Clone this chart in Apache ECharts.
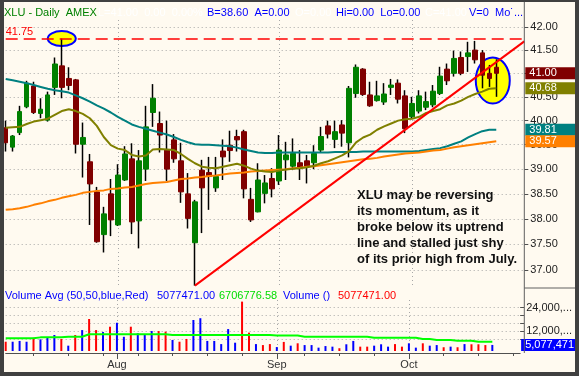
<!DOCTYPE html>
<html>
<head>
<meta charset="utf-8">
<script src="https://cdn.jsdelivr.net/npm/echarts@6/dist/echarts.min.js"></script>
<style>
  html, body { margin: 0; padding: 0; width: 579px; height: 376px; overflow: hidden; background: #404040; }
  #chart { position: absolute; left: 4px; top: 2px; width: 571px; height: 370px; }
</style>
</head>
<body>
<div id="chart"></div>
<script>
// XLU daily, 2007-07-10 .. 2007-10-17 (last 4 dates are empty space on the right)
const dates = [
  '2007-07-10','2007-07-11','2007-07-12','2007-07-13','2007-07-16','2007-07-17','2007-07-18','2007-07-19','2007-07-20',
  '2007-07-23','2007-07-24','2007-07-25','2007-07-26','2007-07-27','2007-07-30','2007-07-31',
  '2007-08-01','2007-08-02','2007-08-03','2007-08-06','2007-08-07','2007-08-08','2007-08-09','2007-08-10',
  '2007-08-13','2007-08-14','2007-08-15','2007-08-16','2007-08-17','2007-08-20','2007-08-21','2007-08-22',
  '2007-08-23','2007-08-24','2007-08-27','2007-08-28','2007-08-29','2007-08-30','2007-08-31',
  '2007-09-04','2007-09-05','2007-09-06','2007-09-07','2007-09-10','2007-09-11','2007-09-12','2007-09-13',
  '2007-09-14','2007-09-17','2007-09-18','2007-09-19','2007-09-20','2007-09-21','2007-09-24','2007-09-25',
  '2007-09-26','2007-09-27','2007-09-28',
  '2007-10-01','2007-10-02','2007-10-03','2007-10-04','2007-10-05','2007-10-08','2007-10-09','2007-10-10',
  '2007-10-11','2007-10-12','2007-10-15','2007-10-16','2007-10-17','2007-10-18','2007-10-19','2007-10-22','2007-10-23'
];

const opens = [39.85,39.45,39.75,40.29,40.73,40.15,40.01,40.70,41.16,40.89, 40.86,39.51,39.15,38.54,37.69,38.50,37.88,38.78,39.21,37.96,
  39.00,40.17,39.94,39.39,39.60,39.17,38.50,37.53,38.98,38.93, 38.62,39.37,39.49,39.67,39.77,38.39,38.14,38.51,38.81,38.76,
  39.19,39.06,39.13,39.17,39.13,39.39,39.89,39.61,39.91,39.54, 40.57,41.09,40.54,40.42,40.39,40.70,40.79,40.52,40.08,40.20,
  40.28,40.33,40.57,41.09,41.00,41.34,41.36,41.50,41.44,41.00, 41.13];
const closes = [39.54,39.68,40.19,40.79,40.17,40.24,40.54,41.20,40.70,40.74, 39.51,39.65,38.70,37.55,38.10,37.98,38.88,39.31,37.94,39.17,
  39.87,40.47,39.70,39.00,39.21,38.54,38.01,38.34,38.62,38.85, 38.85,39.25,39.38,39.60,38.60,37.98,38.78,38.72,38.60,39.39,
  39.29,39.32,39.04,39.06,39.32,39.67,39.72,39.77,39.74,40.68, 41.13,40.55,40.31,40.52,40.56,40.75,40.45,39.83,40.36,40.52,
  40.40,40.62,40.94,40.84,41.32,41.00,41.44,41.29,40.96,40.89, 41.00];
const highs = [40.00,39.70,40.31,40.84,40.82,40.47,40.61,41.34,41.75,41.13, 40.88,39.96,39.31,38.64,38.24,38.80,39.10,39.47,39.53,39.39,
  40.31,40.77,40.19,40.00,39.72,39.54,38.92,38.38,39.19,39.25, 39.25,39.61,39.79,39.81,39.81,38.62,39.12,38.88,39.02,39.70,
  39.56,39.63,39.39,39.29,39.49,39.87,40.00,40.00,40.01,40.73, 41.19,41.11,40.82,40.84,40.79,40.88,40.87,40.64,40.50,40.64,
  40.61,40.75,41.14,41.21,41.49,41.47,41.68,41.70,41.50,41.18, 41.30];
const lows = [39.36,39.36,39.70,40.26,40.14,40.05,39.98,40.54,40.47,40.64, 39.32,38.83,37.88,37.53,37.34,37.66,37.86,38.76,37.70,37.42,
  38.76,39.87,39.34,38.76,39.13,38.32,37.81,36.70,37.72,38.18, 38.54,38.78,39.15,39.36,38.41,37.94,38.13,38.31,38.43,38.68,
  38.78,38.98,38.78,38.71,39.00,39.35,39.63,39.43,39.46,39.24, 40.48,40.52,40.29,40.40,40.33,40.54,40.36,39.74,40.05,40.15,
  40.22,40.28,40.54,40.75,40.93,40.96,41.03,41.21,40.68,40.71, 40.50];

const ma20 = [39.85,39.86,39.87,39.93,39.98,40.01,40.04,40.12,40.20,40.24, 40.20,40.14,40.05,39.89,39.66,39.49,39.42,39.39,39.29,39.26,
  39.28,39.40,39.41,39.40,39.39,39.31,39.21,39.12,39.05,39.03, 39.02,39.05,39.08,39.11,39.07,39.01,38.97,38.95,38.94,38.97,
  38.99,39.01,39.02,39.04,39.07,39.12,39.16,39.22,39.28,39.37, 39.55,39.65,39.71,39.81,39.88,39.94,40.00,40.03,40.04,40.08,
  40.16,40.20,40.24,40.32,40.36,40.42,40.50,40.56,40.61,40.67, 40.68];
const ma50 = [40.88,40.85,40.82,40.79,40.75,40.71,40.67,40.64,40.62,40.59, 40.53,40.47,40.40,40.32,40.25,40.17,40.08,40.00,39.92,39.87,
  39.83,39.79,39.75,39.71,39.66,39.60,39.55,39.51,39.50,39.50, 39.49,39.48,39.47,39.44,39.40,39.37,39.34,39.33,39.33,39.34,
  39.34,39.34,39.34,39.34,39.34,39.34,39.34,39.35,39.35,39.35, 39.35,39.36,39.36,39.36,39.36,39.36,39.36,39.36,39.36,39.37,
  39.39,39.41,39.43,39.47,39.52,39.57,39.65,39.72,39.78,39.81, 39.81];
const ma200 = [38.18,38.19,38.21,38.24,38.28,38.31,38.35,38.38,38.42,38.45, 38.48,38.52,38.54,38.56,38.57,38.60,38.61,38.63,38.64,38.67,
  38.70,38.72,38.73,38.74,38.77,38.80,38.81,38.83,38.84,38.86, 38.87,38.89,38.91,38.92,38.93,38.95,38.96,38.97,38.98,38.99,
  39.00,39.02,39.03,39.05,39.06,39.08,39.10,39.12,39.14,39.16, 39.18,39.20,39.21,39.23,39.26,39.28,39.30,39.32,39.33,39.34,
  39.36,39.38,39.39,39.42,39.45,39.47,39.49,39.51,39.53,39.55, 39.57];

const volumes = [6.7e6,6.7e6,7.1e6,6.7e6,8.7e6,7.9e6,8.7e6,10.1e6,8.1e6,4.7e6, 10.1e6,12.6e6,18.2e6,12.6e6,11.6e6,14.3e6,16.3e6,9.2e6,14.3e6,11.0e6,
  10.1e6,12.1e6,12.1e6,11.8e6,7.6e6,6.7e6,8.1e6,17.7e6,18.6e6,7.1e6, 7.1e6,5.5e6,13.1e6,6.2e6,27.0e6,11.3e6,5.5e6,5.0e6,5.5e6,4.0e6,
  6.6e6,4.7e6,5.9e6,5.0e6,5.0e6,3.7e6,4.5e6,4.2e6,3.4e6,5.4e6, 7.1e6,4.2e6,4.2e6,4.7e6,5.4e6,4.2e6,5.5e6,4.2e6,5.9e6,3.7e6,
  5.9e6,4.7e6,5.0e6,3.9e6,4.2e6,3.9e6,5.5e6,5.4e6,5.4e6,5.0e6, 5077471];
const volAvg = [8.4e6,8.4e6,8.4e6,8.4e6,8.4e6,8.9e6,8.9e6,8.9e6,8.9e6,9.2e6, 9.2e6,9.2e6,10.5e6,10.5e6,10.5e6,10.5e6,10.5e6,10.5e6,10.5e6,10.5e6,
  10.5e6,10.5e6,10.5e6,10.5e6,10.1e6,10.1e6,10.1e6,10.1e6,10.1e6,10.1e6, 10.1e6,10.1e6,10.1e6,10.1e6,10.1e6,10.1e6,10.1e6,10.1e6,10.1e6,9.8e6,
  9.8e6,9.8e6,9.8e6,9.2e6,9.2e6,9.2e6,9.2e6,9.2e6,9.2e6,9.2e6, 9.2e6,9.2e6,9.2e6,8.7e6,8.7e6,8.7e6,8.7e6,8.7e6,8.7e6,8.7e6,
  8.1e6,8.1e6,7.6e6,7.6e6,7.6e6,7.2e6,7.2e6,7.2e6,6.7e6,6.7e6, 6706776.58];

const priceTicks = [37, 37.5, 38, 38.5, 39, 39.5, 40, 40.5, 41, 41.5, 42];
const volTicks = [8e6, 12e6, 16e6, 20e6, 24e6];
const volLabels = [12e6, 24e6];
const priorHigh = 41.75;
const trendLine = [['2007-08-16', 36.70], ['2007-10-23', 41.69]];
const note = ['XLU may be reversing', 'its momentum, as it', 'broke below its uptrend',
  'line and stalled just shy', 'of its prior high from July.'];

const FONT = '"Liberation Sans", Arial, sans-serif';
const MONTHS = ['Jan','Feb','Mar','Apr','May','Jun','Jul','Aug','Sep','Oct','Nov','Dec'];
const isMonthStart = i => i > 0 && dates[i].slice(5, 7) !== dates[i - 1].slice(5, 7);
const dow = d => new Date(d + 'T00:00:00Z').getUTCDay();
const isWeekStart = i => i > 0 && dow(dates[i]) < dow(dates[i - 1]);

const dotted = { color: '#a8a8a8', type: [1, 3], width: 1 };

// coloured value box sitting on the right axis
function tag(value, text, bg) {
  return {
    silent: true, symbol: 'none', animation: false,
    lineStyle: { color: 'rgba(0,0,0,0)', width: 1 },
    label: {
      show: true, position: 'end', distance: 1, formatter: text,
      color: '#fff', backgroundColor: bg, padding: [0, 4], lineHeight: 12,
      width: 50, fontSize: 11, fontFamily: FONT
    },
    data: [{ yAxis: value }]
  };
}

const candleWicks = closes.map((c, i) => [opens[i], c, lows[i], highs[i]]);
const candleBodies = closes.map((c, i) => [opens[i], c, Math.min(opens[i], c), Math.max(opens[i], c)]);
const volBars = volumes.map((v, i) => ({
  value: v,
  itemStyle: { color: closes[i] >= (i ? closes[i - 1] : opens[0]) ? '#0000ff' : '#ff0000' }
}));
const last = closes.length - 1;

const catAxis = { type: 'category', data: dates, boundaryGap: false, position: 'bottom' };

const chart = echarts.init(document.getElementById('chart'));
chart.setOption({
  animation: false,
  backgroundColor: '#fffaf0',
  textStyle: { fontFamily: FONT },
  grid: [
    { left: 1.7, top: 18, width: 518.6, height: 268 },
    { left: 1.7, top: 298, width: 518.6, height: 51 }
  ],
  xAxis: [
    Object.assign({}, catAxis, {
      gridIndex: 0,
      axisLine: { show: false }, axisTick: { show: false }, axisLabel: { show: false },
      splitLine: { show: true, interval: isMonthStart, lineStyle: dotted }
    }),
    Object.assign({}, catAxis, {
      gridIndex: 1, offset: 2,
      axisLine: { show: true, lineStyle: { color: '#505050' } },
      axisTick: { show: true, interval: isWeekStart, length: 3, lineStyle: { color: '#505050' } },
      axisLabel: { show: false },
      splitLine: { show: true, interval: isMonthStart, lineStyle: dotted }
    }),
    Object.assign({}, catAxis, {
      gridIndex: 1, offset: 2,
      axisLine: { show: false },
      axisTick: { show: true, interval: isMonthStart, length: 6, lineStyle: { color: '#505050' } },
      axisLabel: {
        show: true, interval: isMonthStart, margin: 6, color: '#333', fontSize: 11, fontFamily: FONT,
        formatter: v => MONTHS[+v.slice(5, 7) - 1]
      },
      splitLine: { show: false }
    })
  ],
  yAxis: [
    {
      gridIndex: 0, type: 'log', logBase: 10, min: 36.654, max: 42.157, position: 'right',
      axisLine: { show: false },
      axisTick: { show: true, length: 4, customValues: priceTicks, lineStyle: { color: '#505050' } },
      axisLabel: { customValues: priceTicks, formatter: v => v.toFixed(2), margin: 6, color: '#222', fontSize: 11, fontFamily: FONT },
      splitLine: { show: true, lineStyle: dotted }
    },
    {
      gridIndex: 1, type: 'value', min: 2e6, max: 27.82e6, position: 'right',
      axisLine: { show: false },
      axisTick: { show: true, length: 4, customValues: volTicks, lineStyle: { color: '#505050' } },
      axisLabel: {
        customValues: volLabels, margin: 6, color: '#222', fontSize: 11, fontFamily: FONT,
        formatter: v => (v / 1000).toLocaleString('en-US') + ',...'
      },
      splitLine: { show: true, lineStyle: dotted }
    }
  ],
  series: [
    {
      name: 'wick', type: 'candlestick', xAxisIndex: 0, yAxisIndex: 0, clip: false, z: 2,
      barWidth: 1, data: candleWicks,
      itemStyle: { color: '#000', color0: '#000', borderColor: '#000', borderColor0: '#000', borderWidth: 1.5 }
    },
    {
      name: 'body', type: 'candlestick', xAxisIndex: 0, yAxisIndex: 0, clip: false, z: 2,
      barWidth: 5, data: candleBodies,
      itemStyle: { color: '#008000', color0: '#800000', borderColor: '#008000', borderColor0: '#800000', borderWidth: 1 },
      markLine: tag(closes[last], closes[last].toFixed(2), '#800000')
    },
    {
      name: 'ma50', type: 'line', xAxisIndex: 0, yAxisIndex: 0, data: ma50, z: 3,
      showSymbol: false, lineStyle: { color: '#008080', width: 2 },
      markLine: tag(ma50[last], ma50[last].toFixed(2), '#008080')
    },
    {
      name: 'ma200', type: 'line', xAxisIndex: 0, yAxisIndex: 0, data: ma200, z: 3,
      showSymbol: false, lineStyle: { color: '#ff8000', width: 2 },
      markLine: tag(ma200[last], ma200[last].toFixed(2), '#ff8000')
    },
    {
      name: 'ma20', type: 'line', xAxisIndex: 0, yAxisIndex: 0, data: ma20, z: 3,
      showSymbol: false, lineStyle: { color: '#808000', width: 2 },
      markLine: tag(ma20[last], ma20[last].toFixed(2), '#808000')
    },
    {
      name: 'marks', type: 'line', xAxisIndex: 0, yAxisIndex: 0, data: [], z: 4,
      markLine: {
        silent: true, symbol: 'none', animation: false,
        data: [
          [
            { coord: trendLine[0], lineStyle: { color: '#ff0000', width: 2, type: 'solid' }, label: { show: false } },
            { coord: trendLine[1] }
          ],
          {
            yAxis: priorHigh, lineStyle: { color: '#ff0000', width: 1.5, type: [12, 6] },
            label: { show: true, position: 'insideStartTop', distance: [0, 1], formatter: priorHigh.toFixed(2),
              color: '#ff0000', fontSize: 11, fontFamily: FONT }
          }
        ]
      }
    },
    {
      name: 'Volume Avg', type: 'line', xAxisIndex: 1, yAxisIndex: 1, data: volAvg, z: 3,
      showSymbol: false, lineStyle: { color: '#00ff00', width: 2 },
      markLine: tag(volAvg[last], '', '#00cc00')
    },
    {
      name: 'Volume', type: 'bar', xAxisIndex: 1, yAxisIndex: 1, data: volBars, barWidth: 2, z: 2
    },
    {
      name: 'volTag', type: 'line', xAxisIndex: 1, yAxisIndex: 1, data: [], z: 5,
      markLine: tag(volumes[last], volumes[last].toLocaleString('en-US'), '#0000ff')
    }
  ]
});

// annotations anchored on the data
const px = (i, v) => chart.convertToPixel({ xAxisIndex: 0, yAxisIndex: 0 }, [dates[i], v]);
const e1 = px(8, highs[8]);
const e2a = px(69, closes[69]);
const e2b = px(70, closes[70]);
const txt = (x, y, text, fill, font) => ({
  type: 'text', x: x, y: y, z: 10, silent: true,
  style: { text: text, fill: fill, font: font || '11px ' + FONT, verticalAlign: 'middle' }
});
const axisX = chart.convertToPixel({ xAxisIndex: 0 }, dates[dates.length - 1]);

chart.setOption({
  graphic: [
    { type: 'ellipse', z: 1, silent: true, shape: { cx: e1[0], cy: e1[1], rx: 14, ry: 7.5 },
      style: { fill: '#ffff00', stroke: '#0000ff', lineWidth: 2 } },
    { type: 'ellipse', z: 1, silent: true, shape: { cx: (e2a[0] + e2b[0]) / 2, cy: e2a[1] + 2, rx: 17, ry: 23 },
      style: { fill: '#ffff00', stroke: '#0000ff', lineWidth: 2 } },
    { type: 'line', z: 10, silent: true, shape: { x1: axisX, y1: 0, x2: axisX, y2: 351 },
      style: { stroke: '#606060', lineWidth: 1 } },
    { type: 'line', z: 10, silent: true, shape: { x1: axisX, y1: 286, x2: 571, y2: 286 },
      style: { stroke: '#606060', lineWidth: 1 } },
    txt(0, 11, 'XLU - Daily  AMEX', '#008000'),
    txt(94, 11, 'L=41.00  0.00  0.00%', '#ffffff'),
    txt(203, 11, 'B=38.60  A=0.00', '#0000ff'),
    txt(291, 11, 'O=0.00', '#ffffff'),
    txt(332, 11, 'Hi=0.00  Lo=0.00', '#0000ff'),
    txt(421, 11, 'C=41.00', '#ffffff'),
    txt(465, 11, 'V=0  Mo\u02D9...', '#0000ff'),
    txt(1, 294, 'Volume Avg (50,50,blue,Red)', '#0000ff'),
    txt(153, 294, volumes[last].toFixed(2), '#0000ff'),
    txt(215, 294, volAvg[last].toFixed(2), '#00dd00'),
    txt(279, 294, 'Volume ()', '#0000ff'),
    txt(334, 294, volumes[last].toFixed(2), '#ff0000'),
    {
      type: 'text', x: 353, y: 185, z: 10, silent: true,
      style: { text: note.join('\n'), fill: '#111', font: 'bold 13px ' + FONT, lineHeight: 16, verticalAlign: 'top' }
    }
  ]
});
</script>
</body>
</html>
